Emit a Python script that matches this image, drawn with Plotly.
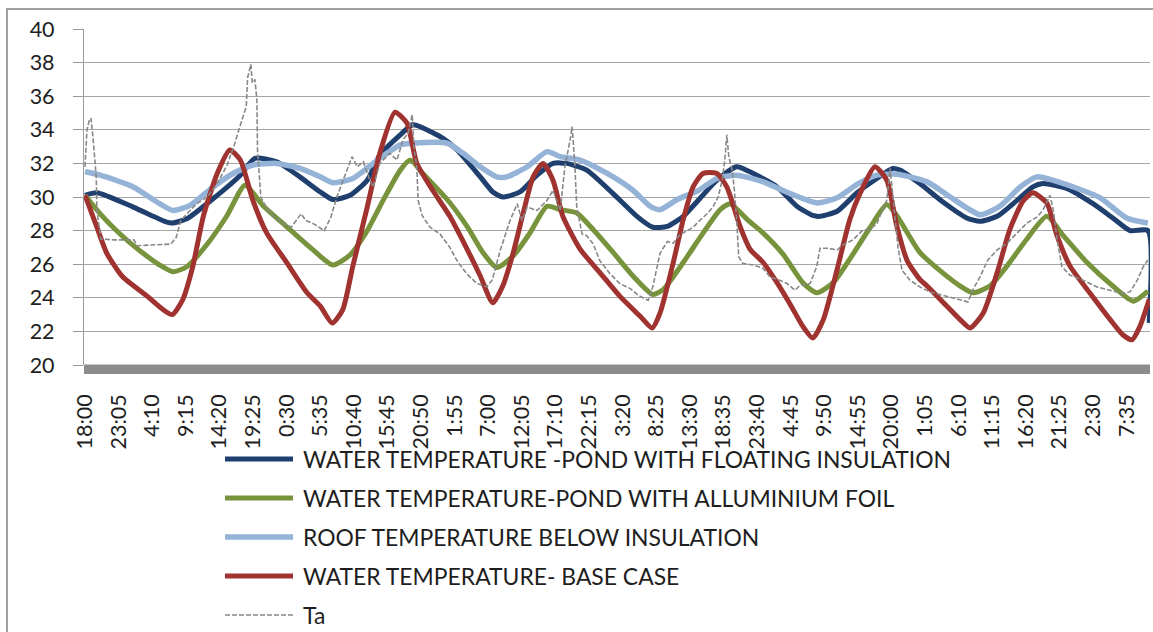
import plotly.graph_objects as go

# ---------------- data (hours since 18:00 on day 1, temperature in deg C) ----------------
tick_labels = ["18:00", "23:05", "4:10", "9:15", "14:20", "19:25", "0:30", "5:35", "10:40",
               "15:45", "20:50", "1:55", "7:00", "12:05", "17:10", "22:15", "3:20", "8:25",
               "13:30", "18:35", "23:40", "4:45", "9:50", "14:55", "20:00", "1:05", "6:10",
               "11:15", "16:20", "21:25", "2:30", "7:35"]
tick_step_h = 305 / 60.0

float_h = [0.0, 1.8, 7.3, 12.4, 13.2, 15.4, 20.0, 23.5, 25.7, 29.0, 32.5, 35.6, 37.5, 40.1, 42.7,
           44.6, 47.7, 49.6, 53.7, 56.3, 59.8, 61.7, 63.2, 65.8, 68.4, 70.8, 72.9, 75.9, 79.9,
           83.5, 85.9, 88.1, 90.5, 93.0, 95.6, 98.6, 100.6, 104.7, 107.7, 110.1, 111.2, 113.8,
           116.8, 119.8, 122.2, 123.3, 126.3, 129.8, 133.4, 135.4, 138.0, 141.0, 143.4, 144.9,
           148.6, 152.5, 155.5, 158.1, 160.8, 161.0]
float_t = [30.1, 30.25, 29.4, 28.5, 28.45, 28.7, 30.1, 31.3, 32.3, 32.1, 31.2, 30.3, 29.85, 30.1,
           31.0, 32.5, 33.7, 34.3, 33.6, 32.8, 31.2, 30.3, 30.0, 30.3, 31.3, 32.0, 32.0, 31.6,
           30.2, 28.85, 28.2, 28.25, 28.85, 29.9, 31.0, 31.8, 31.5, 30.6, 29.45, 28.9, 28.85,
           29.15, 30.25, 31.1, 31.7, 31.6, 30.8, 29.7, 28.75, 28.55, 28.85, 29.8, 30.6, 30.8,
           30.5, 29.6, 28.75, 28.0, 28.0, 22.5]

foil_h = [0.0, 2.3, 5.3, 8.3, 11.3, 13.3, 15.4, 18.5, 21.5, 24.2, 26.9, 30.6, 34.5, 37.5, 40.1,
          42.7, 45.1, 47.7, 49.2, 51.1, 54.8, 57.8, 60.2, 62.3, 64.8, 67.3, 69.9, 71.9, 74.4,
          76.9, 79.9, 82.9, 85.9, 87.5, 90.5, 93.5, 96.1, 97.6, 100.2, 102.6, 105.6, 108.6,
          110.7, 113.2, 115.7, 118.8, 121.3, 122.8, 126.3, 129.4, 132.4, 134.3, 136.9, 139.5,
          142.5, 145.5, 148.0, 151.6, 155.5, 158.6, 160.8]
foil_t = [30.1, 29.0, 27.8, 26.8, 25.95, 25.55, 25.85, 27.2, 28.9, 30.7, 29.5, 28.2, 26.85, 25.95,
          26.55, 28.0, 29.8, 31.6, 32.2, 31.4, 29.85, 28.25, 26.7, 25.8, 26.5, 27.85, 29.45,
          29.25, 29.05, 28.05, 26.7, 25.3, 24.2, 24.5, 26.1, 27.85, 29.25, 29.6, 28.65, 27.85,
          26.6, 24.9, 24.3, 24.9, 26.3, 28.2, 29.55, 28.9, 26.7, 25.6, 24.7, 24.3, 24.7, 25.9,
          27.5, 28.85, 27.7, 26.1, 24.7, 23.8, 24.4]

roof_h = [0.0, 2.3, 7.3, 11.3, 13.3, 15.9, 19.4, 22.4, 25.4, 29.0, 32.5, 35.6, 37.5, 40.5, 43.6,
          44.6, 47.7, 49.6, 54.8, 57.2, 59.8, 62.3, 63.8, 66.9, 69.9, 71.9, 74.9, 79.0, 82.9,
          85.5, 87.0, 89.6, 92.6, 95.6, 98.6, 102.6, 106.7, 110.7, 113.8, 116.8, 119.8, 122.8,
          127.4, 130.9, 135.4, 138.4, 141.5, 144.0, 146.0, 149.5, 153.6, 157.6, 160.8]
roof_t = [31.5, 31.3, 30.6, 29.6, 29.2, 29.5, 30.6, 31.4, 31.9, 32.0, 31.7, 31.2, 30.85, 31.1,
          32.0, 32.3, 33.1, 33.2, 33.2, 32.6, 31.8, 31.2, 31.2, 31.8, 32.7, 32.4, 32.2, 31.4,
          30.4, 29.45, 29.25, 29.85, 30.35, 31.1, 31.3, 30.9, 30.2, 29.65, 29.95, 30.75, 31.3,
          31.35, 30.9, 30.0, 28.95, 29.45, 30.6, 31.2, 31.05, 30.6, 29.95, 28.75, 28.45]

base_h = [0.0, 1.8, 3.3, 5.7, 9.4, 11.8, 13.2, 14.8, 16.3, 17.9, 20.0, 21.9, 23.5, 25.4, 27.5,
          30.6, 33.6, 35.6, 37.4, 39.0, 40.5, 42.7, 44.6, 46.9, 48.7, 50.2, 52.6, 55.2, 57.8,
          59.8, 61.7, 63.2, 64.8, 66.3, 67.8, 69.3, 70.8, 72.3, 74.9, 77.9, 80.9, 84.0, 85.8,
          87.0, 89.0, 90.5, 92.0, 93.5, 95.6, 97.1, 99.1, 100.6, 102.6, 104.7, 106.7, 108.6,
          110.1, 111.7, 113.8, 115.7, 117.3, 119.5, 121.3, 122.8, 124.4, 126.3, 127.4, 130.4,
          132.4, 133.9, 135.9, 138.0, 139.9, 141.9, 143.4, 145.5, 147.1, 149.0, 152.0, 155.1,
          157.0, 158.4, 159.6, 161.0]
base_t = [30.1, 28.2, 26.65, 25.25, 24.1, 23.3, 23.0, 23.9, 25.85, 28.85, 31.4, 32.8, 32.2, 29.8,
          27.85, 26.05, 24.3, 23.5, 22.5, 23.3, 25.85, 29.4, 32.6, 35.05, 34.4, 32.0, 30.4,
          28.85, 26.9, 25.3, 23.7, 24.7, 26.7, 29.05, 31.2, 32.0, 31.0, 28.85, 26.9, 25.5, 24.1,
          22.9, 22.2, 23.1, 26.1, 28.65, 30.6, 31.4, 31.4, 30.6, 28.25, 26.9, 26.1, 24.9, 23.6,
          22.3, 21.6, 22.7, 25.7, 28.65, 30.25, 31.8, 31.0, 28.3, 26.2, 25.1, 24.7, 23.5, 22.7,
          22.2, 23.1, 25.5, 28.05, 29.75, 30.25, 29.65, 27.65, 25.9, 24.3, 22.7, 21.8, 21.5,
          22.3, 23.9]

ta_h = [0.0, 0.15, 0.3, 0.6, 0.9, 1.2, 1.7, 1.8, 2.4, 4.2, 7.4, 7.9, 13.0, 13.8, 14.5, 15.4,
        16.9, 18.5, 20.0, 21.5, 22.5, 23.6, 24.4, 24.6, 25.1, 25.3, 25.7, 26.0, 26.1, 26.6, 27.4,
        28.6, 30.1, 31.2, 32.7, 33.4, 34.6, 36.2, 37.2, 38.1, 39.2, 40.4, 41.2, 42.1, 43.1, 43.6,
        44.6, 46.1, 47.2, 48.1, 48.9, 49.5, 49.8, 50.2, 50.4, 51.0, 52.2, 53.7, 55.2, 56.3, 57.8,
        59.3, 60.8, 61.6, 62.8, 64.3, 65.4, 66.1, 66.9, 68.4, 69.9, 70.8, 71.9, 72.6, 73.4, 73.7,
        74.1, 74.4, 75.2, 75.9, 76.9, 77.9, 79.4, 80.9, 82.5, 83.7, 84.7, 85.2, 85.9, 87.0, 88.1,
        89.0, 90.0, 91.1, 92.0, 93.0, 94.1, 95.0, 95.8, 96.4, 96.8, 97.1, 97.4, 97.9, 98.2, 98.6,
        98.9, 99.5, 101.1, 102.6, 103.6, 105.1, 106.2, 107.4, 108.2, 109.7, 110.7, 111.2, 112.4,
        113.8, 114.7, 116.2, 117.6, 118.8, 119.8, 120.6, 121.3, 121.8, 122.2, 122.5, 123.0,
        123.6, 124.8, 126.3, 127.8, 129.8, 131.9, 133.6, 134.3, 135.4, 136.6, 138.0, 139.5,
        141.0, 142.5, 144.0, 144.9, 146.0, 146.5, 147.1, 147.8, 149.0, 151.0, 153.1, 155.1,
        157.0, 158.1, 159.2, 160.1, 160.8]
ta_t = [31.8, 32.8, 34.0, 34.5, 34.7, 33.6, 31.2, 29.2, 27.5, 27.45, 27.45, 27.1, 27.2, 27.6,
        28.6, 29.0, 29.6, 30.0, 30.8, 31.9, 33.0, 34.4, 35.4, 37.1, 37.9, 36.8, 37.0, 35.8, 32.8,
        30.0, 29.4, 28.8, 28.4, 28.2, 29.0, 28.6, 28.4, 28.0, 28.8, 30.0, 31.2, 32.4, 31.8, 32.1,
        31.0, 30.6, 32.0, 32.6, 32.2, 33.4, 33.8, 34.9, 32.8, 31.8, 29.8, 28.9, 28.2, 27.8, 27.0,
        26.2, 25.4, 24.85, 24.65, 25.05, 26.8, 28.6, 29.6, 28.6, 29.4, 29.2, 29.8, 30.4, 29.2,
        31.8, 33.4, 34.2, 32.0, 29.4, 27.8, 27.7, 27.2, 26.2, 25.45, 24.85, 24.55, 24.15, 23.95,
        23.85, 24.65, 26.65, 27.35, 27.25, 27.75, 28.0, 28.2, 28.6, 29.0, 29.4, 30.0, 31.0, 32.2,
        33.7, 32.4, 31.6, 30.6, 28.6, 26.45, 26.05, 25.95, 25.75, 25.25, 25.05, 24.85, 24.45,
        24.75, 24.85, 25.85, 26.95, 26.95, 26.85, 27.15, 27.45, 28.0, 28.1, 28.4, 29.2, 29.8,
        31.7, 30.0, 29.0, 27.0, 25.65, 25.05, 24.65, 24.35, 24.15, 23.95, 23.75, 24.45, 25.25,
        26.25, 26.85, 27.25, 27.85, 28.45, 28.8, 29.2, 30.1, 29.2, 27.4, 25.85, 25.35, 25.05,
        24.65, 24.45, 24.25, 24.35, 25.05, 25.85, 26.25]

series_names = ["WATER TEMPERATURE -POND WITH FLOATING INSULATION",
                "WATER TEMPERATURE-POND WITH ALLUMINIUM FOIL",
                "ROOF TEMPERATURE BELOW INSULATION",
                "WATER TEMPERATURE- BASE CASE",
                "Ta"]

# ---------------- styling ----------------
W, H = 1153, 632
L, R, T, B = 84, 3, 29, 267
PW, PH = W - L - R, H - T - B
FONT = "Lato, Carlito, Calibri, 'Open Sans', sans-serif"
TXT = "#1e1e1e"

def pxx(px):
    return (px - L) / PW

def pxy(py):
    return (H - B - py) / PH

colors = ["#1F3F6E", "#77933C", "#95B3D7", "#A0322F", "#888888"]
widths = [5, 5, 5.5, 5, 1.6]
dashes = ["solid", "solid", "solid", "solid", "5px,2px"]
xs = [float_h, foil_h, roof_h, base_h, ta_h]
ys = [float_t, foil_t, roof_t, base_t, ta_t]

fig = go.Figure()
for i in range(5):
    fig.add_trace(go.Scatter(
        x=xs[i], y=ys[i], mode="lines", name=series_names[i],
        line=dict(color=colors[i], width=widths[i], dash=dashes[i],
                  shape="spline" if i < 4 else "linear", smoothing=0.6 if i < 4 else None),
        showlegend=False, hoverinfo="skip"))

tick_vals = [i * tick_step_h for i in range(len(tick_labels))]

fig.update_layout(
    width=W, height=H,
    margin=dict(l=L, r=R, t=T, b=B, pad=0),
    paper_bgcolor="white", plot_bgcolor="white",
    font=dict(family=FONT, size=21.5, color=TXT),
    xaxis=dict(range=[-(1 / 33.6) * tick_step_h, (PW - 1) / 33.6 * tick_step_h],
               tickmode="array", tickvals=tick_vals, ticktext=tick_labels,
               tickangle=-90, showgrid=False, showline=False, zeroline=False,
               ticks="", ticklabelstandoff=24,
               tickfont=dict(family=FONT, size=21.5, color=TXT)),
    yaxis=dict(range=[20, 40], dtick=2, tick0=20, showgrid=True, gridcolor="#A6A6A6",
               gridwidth=1.2, zeroline=False, showline=True, linecolor="#9A9A9A",
               linewidth=1.2, ticks="outside", ticklen=10, tickcolor="#9A9A9A",
               tickwidth=1.2, ticklabelstandoff=14,
               tickfont=dict(family=FONT, size=21.5, color=TXT)),
)

shapes = []
# outer chart border
shapes.append(dict(type="rect", xref="paper", yref="paper",
                   x0=pxx(7), x1=pxx(1170), y0=pxy(700), y1=pxy(9),
                   line=dict(color="#A0A0A0", width=2), fillcolor="rgba(0,0,0,0)", layer="below"))
# thick grey floor bar under the plot area
shapes.append(dict(type="rect", xref="paper", yref="paper",
                   x0=pxx(84), x1=pxx(1150), y0=pxy(374), y1=pxy(364.5),
                   line=dict(width=0), fillcolor="#8C8C8C", layer="above"))

annotations = []
row_y = [459, 498, 537, 576, 615]
for i, name in enumerate(series_names):
    shapes.append(dict(type="line", xref="paper", yref="paper",
                       x0=pxx(225), x1=pxx(293), y0=pxy(row_y[i]), y1=pxy(row_y[i]),
                       line=dict(color=colors[i], width=widths[i], dash=dashes[i])))
    annotations.append(dict(xref="paper", yref="paper", x=pxx(301), y=pxy(row_y[i]),
                            text=name, showarrow=False, xanchor="left", yanchor="middle",
                            font=dict(family=FONT, size=22.9, color=TXT)))

fig.update_layout(shapes=shapes, annotations=annotations)
fig.write_html("out.html")
